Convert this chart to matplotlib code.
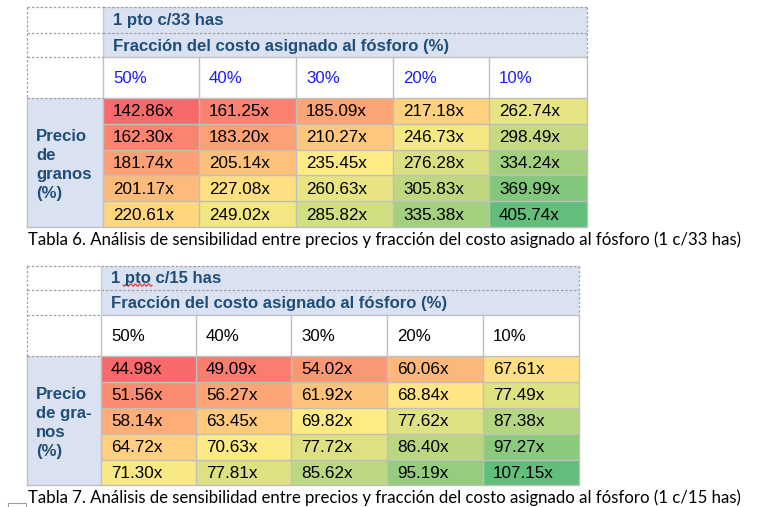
import numpy as np
import matplotlib.pyplot as plt
from matplotlib.colors import LinearSegmentedColormap, TwoSlopeNorm
from matplotlib.patches import Rectangle

# Datos de las dos tablas
fracciones = ['50%', '40%', '30%', '20%', '10%']

valores_33 = np.array([
    [142.86, 161.25, 185.09, 217.18, 262.74],
    [162.30, 183.20, 210.27, 246.73, 298.49],
    [181.74, 205.14, 235.45, 276.28, 334.24],
    [201.17, 227.08, 260.63, 305.83, 369.99],
    [220.61, 249.02, 285.82, 335.38, 405.74],
])
valores_15 = np.array([
    [44.98, 49.09, 54.02, 60.06, 67.61],
    [51.56, 56.27, 61.92, 68.84, 77.49],
    [58.14, 63.45, 69.82, 77.62, 87.38],
    [64.72, 70.63, 77.72, 86.40, 97.27],
    [71.30, 77.81, 85.62, 95.19, 107.15],
])

titulo_33 = '1 pto c/33 has'
titulo_15 = '1 pto c/15 has'
subtitulo = 'Fracción del costo asignado al fósforo (%)'
etiqueta_33 = ['Precio', 'de', 'granos', '(%)']
etiqueta_15 = ['Precio', 'de gra-', 'nos', '(%)']
leyenda_33 = ('Tabla 6. Análisis de sensibilidad entre precios y fracción '
              'del costo asignado al fósforo (1 c/33 has)')
leyenda_15 = ('Tabla 7. Análisis de sensibilidad entre precios y fracción '
              'del costo asignado al fósforo (1 c/15 has)')

# Escala de color tipo Excel (rojo - amarillo - verde)
cmap = LinearSegmentedColormap.from_list('excel', ['#F8696B', '#FFEB84', '#63BE7B'])

FONDO_CAB = '#DAE2F2'
AZUL_CAB = '#1F4E79'
GRIS = '#BFBFBF'
GRIS_DASH = '#A0A0A0'
TABLA_FONT = 'Liberation Sans'
FS = 12.1


def dibujar_tabla(ax, valores, cols, rows, titulo, etiqueta, color_pct, leyenda):
    norm = TwoSlopeNorm(vmin=valores.min(), vcenter=np.median(valores), vmax=valores.max())
    x0, x1, xr = cols[0], cols[1], cols[-1]

    # fondos
    ax.add_patch(Rectangle((x1, rows[0]), xr - x1, rows[2] - rows[0], color=FONDO_CAB, lw=0))
    ax.add_patch(Rectangle((x0, rows[3]), x1 - x0, rows[-1] - rows[3], color=FONDO_CAB, lw=0))

    for i in range(valores.shape[0]):
        for j in range(valores.shape[1]):
            xa, xb = cols[j + 1], cols[j + 2]
            ya, yb = rows[i + 3], rows[i + 4]
            ax.add_patch(Rectangle((xa, ya), xb - xa, yb - ya,
                                   color=cmap(norm(valores[i, j])), lw=0))
            ax.text(xa + 10, (ya + yb) / 2 + 1, f'{valores[i, j]:.2f}x',
                    fontsize=FS + 0.2, family=TABLA_FONT, color='black',
                    ha='left', va='center')

    # encabezados
    ax.text(x1 + 10, (rows[0] + rows[1]) / 2 + 1, titulo, fontsize=FS,
            family=TABLA_FONT, weight='bold', color=AZUL_CAB, ha='left', va='center')
    ax.text(x1 + 10, (rows[1] + rows[2]) / 2 + 1, subtitulo, fontsize=FS,
            family=TABLA_FONT, weight='bold', color=AZUL_CAB, ha='left', va='center')
    for j, f in enumerate(fracciones):
        ax.text(cols[j + 1] + 10, (rows[2] + rows[3]) / 2 + 1, f, fontsize=FS,
                family=TABLA_FONT, color=color_pct, ha='left', va='center')

    # etiqueta de filas
    yc = (rows[3] + rows[-1]) / 2 + 2.5
    paso = 19.3
    for k, linea in enumerate(etiqueta):
        ax.text(x0 + 9, yc + (k - (len(etiqueta) - 1) / 2) * paso, linea, fontsize=FS,
                family=TABLA_FONT, weight='bold', color=AZUL_CAB, ha='left', va='center')

    # lineas solidas
    for c in cols[1:]:
        ax.plot([c, c], [rows[2], rows[-1]], color=GRIS, lw=1, solid_capstyle='butt')
    for r in rows[2:]:
        ax.plot([x1, xr], [r, r], color=GRIS, lw=1, solid_capstyle='butt')
    ax.plot([x0, x0], [rows[3], rows[-1]], color=GRIS, lw=1)
    ax.plot([x0, x1], [rows[-1], rows[-1]], color=GRIS, lw=1)
    ax.plot([x1, x1], [rows[0], rows[2]], color='#C8CCD8', lw=1)

    # lineas punteadas
    dash = dict(color=GRIS_DASH, lw=0.9, ls=(0, (2, 1.5)))
    ax.plot([x0, x0], [rows[0], rows[3]], **dash)
    for r in rows[:4]:
        ax.plot([x0, x1], [r, r], **dash)
    ax.plot([x1, xr], [rows[0], rows[0]], **dash)
    ax.plot([x1, xr], [rows[1], rows[1]], **dash)
    ax.plot([xr, xr], [rows[0], rows[2]], **dash)

    # leyenda
    ax.text(x0 + 1, rows[-1] + 13, leyenda, fontsize=12.1, family='Lato',
            color='black', ha='left', va='center')


fig = plt.figure(figsize=(7.62, 5.07), dpi=100)
ax = fig.add_axes([0, 0, 1, 1])
ax.set_xlim(0, 762)
ax.set_ylim(507, 0)
ax.axis('off')

dibujar_tabla(ax, valores_33,
              [27, 103, 199, 296, 393, 489, 587],
              [7, 33, 57, 98, 124, 150, 175, 201, 227],
              titulo_33, etiqueta_33, '#1A1AFF', leyenda_33)
dibujar_tabla(ax, valores_15,
              [27, 101, 196, 291, 387, 483, 579],
              [266, 290, 315, 356, 382, 408, 434, 460, 485],
              titulo_15, etiqueta_15, 'black', leyenda_15)

# subrayado ortografico bajo "pto"
xs = np.linspace(123, 152, 60)
ax.plot(xs, 285 + 1.2 * np.sin((xs - 123) * 1.4), color='#E03030', lw=0.8)

# pequeño recuadro en la esquina inferior
ax.add_patch(Rectangle((8, 503), 18, 8, fill=False, ec=GRIS_DASH, lw=0.8))

fig.savefig('out.png', dpi=100)
